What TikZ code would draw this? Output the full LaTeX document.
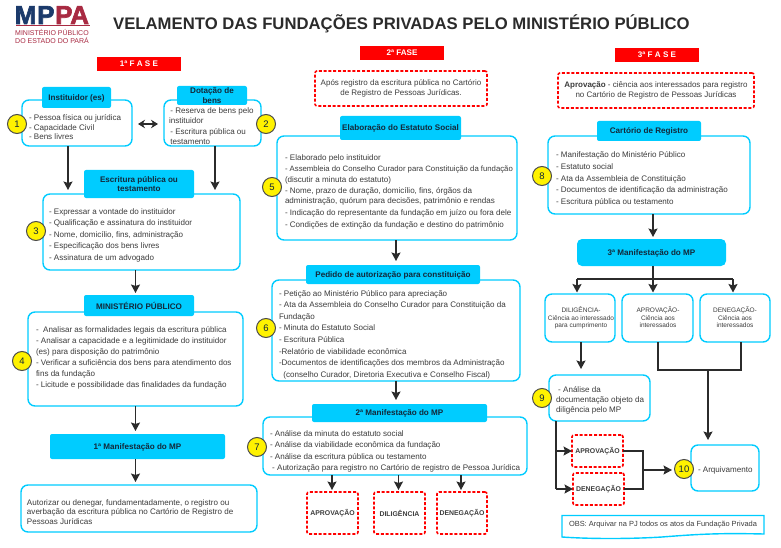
\documentclass[tikz,border=0pt]{standalone}
\usepackage{fontspec}
\setmainfont{Liberation Sans}
\newfontfamily\logofont[FakeBold=2.5]{Liberation Sans Bold}
\usetikzlibrary{arrows.meta}
\definecolor{cy}{HTML}{00CCFF}
\definecolor{rd}{HTML}{FF0000}
\definecolor{tx}{HTML}{3C3C3C}
\definecolor{hd}{HTML}{12283A}
\definecolor{ln}{HTML}{2B2B2B}
\definecolor{nv}{HTML}{1B3A6B}
\definecolor{lr}{HTML}{A82A42}
\tikzset{
 cbox/.style={draw=cy,line width=1.4pt,rounded corners=7pt,fill=white,inner sep=0pt,outer sep=0pt},
 hbox/.style={fill=cy,rounded corners=2pt,inner sep=0pt,outer sep=0pt,align=center,text=hd,text depth=0pt,font=\fontsize{8.1}{9.2}\selectfont\bfseries},
 dbox/.style={draw=rd,line width=1.6pt,dash pattern=on 3pt off 1.8pt,rounded corners=2pt,inner sep=0pt,outer sep=0pt,align=center,text=tx},
 mini/.style={font=\fontsize{6.9}{8}\selectfont\bfseries},
 fase/.style={fill=rd,inner sep=0pt,outer sep=0pt,text=white,font=\fontsize{8.1}{9}\selectfont\bfseries},
 num/.style={circle,draw=ln!85,line width=1pt,fill=yellow,minimum size=19pt,inner sep=0pt,text=hd,font=\fontsize{9.5}{10}\selectfont},
 arr/.style={draw=ln,line width=1.5pt,-{Stealth[length=8.5pt,width=9pt,inset=1.5pt]}},
 pl/.style={draw=ln,line width=1.2pt},
 body/.style={anchor=north west,inner sep=0pt,outer sep=0pt,align=left,text=tx},
 logol/.style={anchor=base west,inner sep=0pt,font=\fontsize{26}{26}\logofont},
 small/.style={inner sep=0pt,text=tx,align=center,font=\fontsize{6.5}{7.4}\selectfont,anchor=north},
}
% name, x1,y1,x2,y2, style, text
\newcommand{\bxn}[7]{\pgfmathsetmacro\cxx{(#2+#4)/2}\pgfmathsetmacro\cyy{(#3+#5)/2}%
 \pgfmathsetmacro\wxx{#4-#2}\pgfmathsetmacro\hyy{#5-#3}%
 \node[#6,minimum width=\wxx pt,minimum height=\hyy pt] (#1) at (\cxx,\cyy) {#7};}
% name, x, y of first line middle, line spacing, text
\newcommand{\tl}[5]{\pgfmathsetmacro\tyy{#3-0.7*#4+3}%
 \node[body,font=\fontsize{8.05}{#4}\selectfont] (#1) at (#2,\tyy) {\strut #5};}
\begin{document}
\begin{tikzpicture}[x=1pt,y=-1pt]
\useasboundingbox (0,0) rectangle (781,548);
% logo
\node[logol,text=nv] (lm) at (14.5,24) {M};
\node[logol,text=nv] (lp) at (37,24) {P};
\node[logol,text=lr] (lq) at (55,24) {P};
\node[logol,text=lr] (la) at (70,24) {A};
\fill[lr] (15.5,25.5) rectangle (90,26.5);
\node[anchor=west,inner sep=0,text=lr,font=\fontsize{7}{8}\selectfont] (l1) at (15,33) {MINISTÉRIO PÚBLICO};
\node[anchor=west,inner sep=0,text=lr,font=\fontsize{7}{8}\selectfont] (l2) at (15,41) {DO ESTADO DO PARÁ};
% title
\node[anchor=west,inner sep=0,text=ln,font=\fontsize{16.7}{18}\selectfont\bfseries] (title) at (113,24) {VELAMENTO DAS FUNDAÇÕES PRIVADAS PELO MINISTÉRIO PÚBLICO};
% phases
\bxn{f1}{97}{57}{181}{71}{fase}{1ª F A S E}
\bxn{f2}{360}{46}{444}{60}{fase}{2ª FASE}
\bxn{f3}{615}{48}{699}{62}{fase}{3ª F A S E}
% column 1 boxes
\bxn{b1}{22}{100}{132}{146}{cbox}{}
\bxn{h1}{42}{87}{111}{108}{hbox}{Instituidor (es)}
\bxn{b2}{164}{100}{261}{146}{cbox}{}
\bxn{h2}{177}{86}{247}{105}{hbox}{Dotação de\\bens}
\bxn{b3}{43}{194}{240}{270}{cbox}{}
\bxn{h3}{84}{170}{194}{198}{hbox}{Escritura pública ou\\testamento}
\bxn{b4}{28}{312}{243}{406}{cbox}{}
\bxn{h4}{84}{295}{194}{316}{hbox}{MINISTÉRIO PÚBLICO}
\bxn{h5}{50}{434}{225}{459}{hbox}{1ª Manifestação do MP}
\bxn{b5}{21}{485}{257}{532}{cbox}{}
% column 2 boxes
\bxn{d1}{315}{71}{487}{106}{dbox,font=\fontsize{8}{9.5}\selectfont}{Após registro da escritura pública no Cartório\\de Registro de Pessoas Jurídicas.}
\bxn{b6}{277}{136}{517}{240}{cbox}{}
\bxn{h6}{340}{116}{461}{140}{hbox}{Elaboração do Estatuto Social}
\bxn{b7}{272}{280}{520}{381}{cbox}{}
\bxn{h7}{306}{265}{480}{284}{hbox}{Pedido de autorização para constituição}
\bxn{b8}{263}{417}{527}{475}{cbox}{}
\bxn{h8}{312}{404}{487}{422}{hbox}{2ª Manifestação do MP}
\bxn{e1}{307}{492}{358}{534}{dbox,mini}{APROVAÇÃO}
\bxn{e2}{374}{492}{425}{534}{dbox,mini}{DILIGÊNCIA}
\bxn{e3}{437}{492}{487}{534}{dbox,mini}{DENEGAÇÃO}
% column 3 boxes
\bxn{d2}{558}{73}{754}{108}{dbox,font=\fontsize{8}{9.5}\selectfont}{\textbf{Aprovação} - ciência aos interessados para registro\\no Cartório de Registro de Pessoas Jurídicas}
\bxn{b9}{548}{136}{750}{214}{cbox}{}
\bxn{h9}{597}{121}{701}{141}{hbox}{Cartório de Registro}
\bxn{h10}{577}{239}{726}{266}{hbox,rounded corners=5pt}{3ª Manifestação do MP}
\bxn{s1}{545}{294}{615}{342}{cbox}{}
\bxn{s2}{622}{294}{693}{342}{cbox}{}
\bxn{s3}{700}{294}{770}{342}{cbox}{}
\bxn{b10}{549}{375}{650}{421}{cbox}{}
\bxn{p1}{572}{435}{623}{467}{dbox,mini}{APROVAÇÃO}
\bxn{p2}{573}{473}{624}{505}{dbox,mini}{DENEGAÇÃO}
\bxn{b11}{691}{445}{759}{491}{cbox}{}
% OBS document shape
\node[inner sep=0,outer sep=0,minimum width=202pt,minimum height=21pt] (obs) at (663,526) {};
\draw[cy,line width=1.4pt] (obs.north west) -- (obs.north east) -- (764,534) .. controls (720,533) and (700,534) .. (662,537) .. controls (630,539) and (590,539) .. (562,537) -- cycle;
% body text
\tl{t1}{29}{118}{9.1}{- Pessoa física ou jurídica\\- Capacidade Civil\\- Bens livres}
\tl{t2}{169}{111}{9.5}{\,- Reserva de bens pelo\\instituidor\\[2pt]\,- Escritura pública ou\\\,testamento}
\tl{t3}{49}{211}{11.6}{- Expressar a vontade do instituidor\\- Qualificação e assinatura do instituidor\\- Nome, domicílio, fins, administração\\- Especificação dos bens livres\\- Assinatura de um advogado}
\tl{t4}{36}{329}{10.3}{-\ \ Analisar as formalidades legais da escritura pública\\[1.4pt]- Analisar a capacidade e a legitimidade do instituidor\\(es) para disposição do patrimônio\\[1.4pt]- Verificar a suficiência dos bens para atendimento dos\\fins da fundação\\[1.4pt]- Licitude e possibilidade das finalidades da fundação}
\tl{t5}{27}{502}{9.5}{Autorizar ou denegar, fundamentadamente, o registro ou\\averbação da escritura pública no Cartório de Registro de\\Pessoas Jurídicas}
\tl{t6}{285}{157}{10.3}{- Elaborado pelo instituidor\\[1.4pt]{\fontsize{7.75}{10.3}\selectfont- Assembleia do Conselho Curador para Constituição da fundação}\\(discutir a minuta do estatuto)\\[1.4pt]- Nome, prazo de duração, domicílio, fins, órgãos da\\administração, quórum para decisões, patrimônio e rendas\\[1.4pt]- Indicação do representante da fundação em juízo ou fora dele\\[1.4pt]- Condições de extinção da fundação e destino do patrimônio}
\tl{t7}{279}{293}{11.6}{- Petição ao Ministério Público para apreciação\\- Ata da Assembleia do Conselho Curador para Constituição da\\Fundação\\- Minuta do Estatuto Social\\- Escritura Pública\\-Relatório de viabilidade econômica\\-Documentos de identificações dos membros da Administração\\\ \ (conselho Curador, Diretoria Executiva e Conselho Fiscal)}
\tl{t8}{270}{433}{11.6}{- Análise da minuta do estatuto social\\- Análise da viabilidade econômica da fundação\\- Análise da escritura pública ou testamento\\\ - Autorização para registro no Cartório de registro de Pessoa Jurídica}
\tl{t9}{556}{155}{11.6}{- Manifestação do Ministério Público\\- Estatuto social\\- Ata da Assembleia de Constituição\\- Documentos de identificação da administração\\- Escritura pública ou testamento}
\tl{t10}{556}{389}{10}{\ - Análise da\\documentação objeto da\\diligência pelo MP}
\tl{t11}{698}{469}{10}{- Arquivamento}
\node[inner sep=0,text=tx,font=\fontsize{7.45}{9}\selectfont] (t12) at (663,525) {OBS: Arquivar na PJ todos os atos da Fundação Privada};
\node[small] (t13) at (581,307) {DILIGÊNCIA-\\Ciência ao interessado\\para cumprimento};
\node[small] (t14) at (658,307) {APROVAÇÃO-\\Ciência aos\\interessados};
\node[small] (t15) at (735,307) {DENEGAÇÃO-\\Ciência aos\\interessados};
% free connector ends
\coordinate (c1) at (68,190);
\coordinate (c2) at (215,190);
\coordinate (c3) at (135.5,293);
\coordinate (c4) at (135.5,431);
\coordinate (c5) at (135.5,482);
\coordinate (c6) at (396,261);
\coordinate (c7) at (396,400);
\coordinate (c8) at (332,490);
\coordinate (c9) at (398.5,490);
\coordinate (c10) at (461,490);
\coordinate (c11) at (653,237);
\coordinate (j1) at (653,279);
\coordinate (c12) at (581,369);
\coordinate (j2) at (658,370);
\coordinate (j3) at (741,370);
\coordinate (c13) at (708,440);
\coordinate (j4) at (556,451);
\coordinate (j5) at (556,489);
\coordinate (j6) at (643,451);
\coordinate (j7) at (643,489);
\coordinate (c14) at (672,470);
\coordinate (l1s) at (577,279);
\coordinate (l3s) at (733,279);
\coordinate (c15) at (577,292.5);
\coordinate (c16) at (653,292.5);
\coordinate (c17) at (733,292.5);
% connectors
\draw[pl,{Stealth[length=7pt,width=8.5pt]}-{Stealth[length=7pt,width=8.5pt]}] (138,124) -- (158,124);
\draw[arr] (b1.south -| c1) -- (c1);
\draw[arr] (b2.south -| c2) -- (c2);
\draw[arr] (b3.south -| c3) -- (c3);
\draw[arr] (b4.south -| c4) -- (c4);
\draw[arr] (h5.south -| c5) -- (c5);
\draw[arr] (b6.south -| c6) -- (c6);
\draw[arr] (b7.south -| c7) -- (c7);
\draw[arr] (b8.south -| c8) -- (c8);
\draw[arr] (b8.south -| c9) -- (c9);
\draw[arr] (b8.south -| c10) -- (c10);
\draw[arr] (b9.south -| c11) -- (c11);
\draw[pl] (h10.south -| j1) -- (j1);
\draw[pl] (l1s) -- (l3s);
\draw[arr] (l1s) -- (c15);
\draw[arr] (j1) -- (c16);
\draw[arr] (l3s) -- (c17);
\draw[arr] (s1.south -| c12) -- (c12);
\draw[pl] (s2.south -| j2) -- (j2) -- (j3) -- (s3.south -| j3);
\draw[arr] (c13 |- j2) -- (c13);
\draw[pl] (b10.south -| j5) -- (j5);
\draw[arr] (j4) -- (p1.west);
\draw[arr] (j5) -- (p2.west);
\draw[pl] (p1.east) -- (j6) -- (j7) -- (p2.east);
\draw[arr] (j6 |- c14) -- (c14);
% number badges
\node[num] (n1) at (17,124) {1};
\node[num] (n2) at (266,124) {2};
\node[num] (n3) at (36,231) {3};
\node[num] (n4) at (22,361) {4};
\node[num] (n5) at (272,187) {5};
\node[num] (n6) at (266,328) {6};
\node[num] (n7) at (257,447) {7};
\node[num] (n8) at (542,176) {8};
\node[num] (n9) at (542,398) {9};
\node[num] (n10) at (684,469) {10};
\end{tikzpicture}
\end{document}
